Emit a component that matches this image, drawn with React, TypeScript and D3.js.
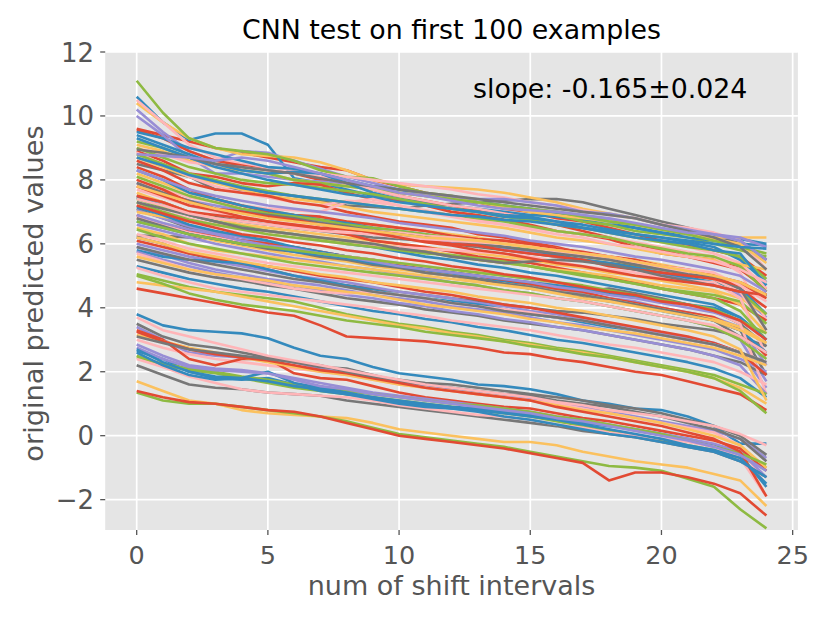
import * as d3 from "d3";

// shift index 0..24
const shifts = d3.range(25);

const xTicks = [0, 5, 10, 15, 20, 25];
const yTicks = [-2, 0, 2, 4, 6, 8, 10, 12];

// ggplot colour cycle, one list of runs per colour (drawn interleaved like matplotlib)
const colors = ["#E24A33", "#348ABD", "#988ED5", "#777777", "#FBC15E", "#8EBA42", "#FFB5B8"];

const redSeries = [
  [9.6, 9.4, 9.2, 9.0, 8.85, 8.7, 8.55, 8.4, 8.3, 8.0, 7.8, 7.6, 7.45, 7.3, 7.1, 7.0, 6.8, 6.7, 6.5, 6.3, 6.1, 5.95, 5.8, 5.6, 5.0],
  [9.55, 9.3, 8.9, 8.6, 8.45, 8.3, 8.2, 8.0, 7.9, 7.7, 7.5, 7.35, 7.2, 7.05, 6.95, 6.8, 6.6, 6.4, 6.2, 6.0, 5.8, 5.6, 5.4, 5.2, 4.6],
  [8.9, 8.6, 8.2, 8.1, 7.9, 7.8, 7.9, 7.85, 7.6, 7.4, 7.35, 7.2, 7.0, 6.9, 6.75, 6.6, 6.4, 6.3, 6.15, 5.9, 5.7, 5.6, 5.5, 5.3, 4.5],
  [8.6, 8.3, 7.9, 7.7, 7.6, 7.5, 7.3, 7.2, 7.0, 6.85, 6.7, 6.6, 6.5, 6.3, 6.2, 6.05, 5.9, 5.7, 5.6, 5.4, 5.25, 5.1, 4.9, 4.6, 4.0],
  [8.4, 8.1, 7.7, 7.4, 7.2, 7.0, 6.9, 6.85, 6.7, 6.6, 6.5, 6.4, 6.25, 6.15, 6.1, 6.0, 5.85, 5.75, 5.6, 5.5, 5.3, 5.2, 5.0, 4.8, 4.4],
  [7.8, 7.5, 7.2, 7.05, 6.85, 6.7, 6.55, 6.45, 6.3, 6.1, 6.0, 5.9, 5.75, 5.6, 5.5, 5.4, 5.25, 5.1, 4.95, 4.8, 4.6, 4.45, 4.3, 4.1, 3.6],
  [6.9, 6.6, 6.4, 6.25, 6.1, 6.0, 5.9, 5.75, 5.6, 5.5, 5.35, 5.2, 5.1, 5.0, 4.85, 4.75, 4.6, 4.5, 4.3, 4.15, 4.0, 3.85, 3.7, 3.3, 2.5],
  [6.1, 5.9, 5.7, 5.55, 5.4, 5.3, 5.15, 5.0, 4.9, 4.8, 4.65, 4.5, 4.4, 4.25, 4.1, 4.0, 3.85, 3.7, 3.55, 3.4, 3.25, 3.1, 2.9, 2.6, 1.9],
  [4.6, 4.45, 4.3, 4.15, 4.0, 3.85, 3.75, 3.45, 3.1, 3.05, 3.0, 2.95, 2.85, 2.75, 2.6, 2.55, 2.4, 2.3, 2.15, 2.0, 1.9, 1.7, 1.5, 1.3, 0.8],
  [7.5, 7.3, 7.0, 6.9, 6.8, 6.7, 6.6, 6.5, 6.45, 6.35, 6.2, 6.1, 6.0, 5.95, 5.8, 5.7, 5.6, 5.5, 5.3, 5.2, 5.1, 5.0, 4.9, 4.7, 4.3],
  [8.0, 7.7, 7.3, 7.1, 7.0, 6.85, 6.75, 6.6, 6.5, 6.35, 6.2, 6.05, 5.95, 5.8, 5.7, 5.55, 5.4, 5.3, 5.15, 5.0, 4.9, 4.8, 4.7, 4.5, 4.4],
  [7.2, 6.95, 6.7, 6.5, 6.3, 6.2, 6.05, 5.95, 5.8, 5.7, 5.55, 5.45, 5.3, 5.2, 5.05, 4.95, 4.8, 4.65, 4.5, 4.4, 4.2, 4.1, 3.9, 3.6, 3.0],
  [3.3, 3.0, 2.4, 2.2, 2.4, 2.4, 1.95, 1.8, 1.75, 1.55, 1.35, 1.2, 1.1, 1.0, 0.9, 0.85, 0.7, 0.55, 0.45, 0.3, 0.15, 0.0, -0.15, -0.4, -1.1],
  [3.25, 2.95, 2.7, 2.55, 2.45, 2.35, 2.2, 2.05, 1.95, 1.8, 1.65, 1.5, 1.4, 1.3, 1.2, 1.1, 0.9, 0.75, 0.6, 0.45, 0.3, 0.1, -0.1, -0.5, -1.9],
  [1.4, 1.2, 1.05, 1.0, 0.9, 0.8, 0.75, 0.6, 0.4, 0.2, 0.0, -0.1, -0.2, -0.3, -0.4, -0.55, -0.7, -0.85, -1.4, -1.15, -1.15, -1.3, -1.5, -1.8, -2.5],
];

const blueSeries = [
  [10.6, 9.8, 9.25, 9.45, 9.45, 9.1, 8.05, 7.9, 7.7, 7.5, 7.4, 7.3, 7.2, 7.1, 7.0, 6.9, 6.85, 6.75, 6.6, 6.5, 6.35, 6.3, 6.2, 6.15, 6.0],
  [9.5, 9.3, 9.0, 8.8, 8.6, 8.4, 8.35, 8.2, 8.0, 7.8, 7.7, 7.55, 7.4, 7.3, 7.2, 7.1, 6.95, 6.8, 6.7, 6.5, 6.35, 6.2, 6.1, 6.0, 5.95],
  [9.4, 9.1, 8.8, 8.5, 8.3, 8.2, 8.25, 8.2, 7.9, 7.6, 7.4, 7.2, 7.1, 7.0, 6.9, 6.85, 6.7, 6.6, 6.45, 6.3, 6.2, 6.05, 5.9, 5.5, 4.8],
  [9.3, 9.0, 8.7, 8.4, 8.2, 8.0, 7.85, 7.7, 7.55, 7.45, 7.3, 7.2, 7.1, 7.0, 6.85, 6.8, 6.7, 6.5, 6.35, 6.2, 6.1, 6.0, 5.8, 5.7, 4.7],
  [8.3, 8.0, 7.6, 7.4, 7.2, 7.05, 6.9, 6.75, 6.65, 6.5, 6.4, 6.3, 6.15, 6.0, 5.9, 5.8, 5.65, 5.5, 5.4, 5.25, 5.1, 4.95, 4.8, 4.6, 3.8],
  [7.45, 7.2, 6.9, 6.7, 6.5, 6.4, 6.3, 6.15, 6.0, 5.9, 5.75, 5.6, 5.5, 5.35, 5.25, 5.1, 5.0, 4.85, 4.7, 4.55, 4.4, 4.25, 4.1, 3.7, 3.0],
  [7.15, 6.9, 6.6, 6.4, 6.25, 6.1, 5.9, 5.75, 5.6, 5.45, 5.3, 5.2, 5.05, 4.9, 4.8, 4.65, 4.5, 4.4, 4.25, 4.1, 3.9, 3.75, 3.6, 3.3, 2.6],
  [5.8, 5.6, 5.5, 5.45, 5.4, 5.2, 5.0, 4.85, 4.7, 4.55, 4.4, 4.3, 4.2, 4.1, 3.95, 3.8, 3.7, 3.55, 3.4, 3.3, 3.15, 3.0, 2.85, 2.6, 2.3],
  [5.3, 5.1, 4.9, 4.75, 4.6, 4.5, 4.35, 4.2, 4.05, 3.9, 3.8, 3.65, 3.55, 3.4, 3.3, 3.15, 3.0, 2.9, 2.75, 2.6, 2.45, 2.3, 2.1, 1.8, 1.2],
  [6.7, 6.5, 6.3, 6.15, 6.0, 5.9, 5.75, 5.65, 5.55, 5.4, 5.3, 5.2, 5.1, 5.0, 4.9, 4.8, 4.7, 4.6, 4.45, 4.35, 4.25, 4.1, 4.0, 3.7, 3.0],
  [8.7, 8.45, 8.15, 7.95, 7.75, 7.6, 7.5, 7.4, 7.3, 7.2, 7.1, 7.0, 6.9, 6.85, 6.75, 6.7, 6.6, 6.5, 6.4, 6.3, 6.2, 6.1, 6.0, 5.9, 5.85],
  [3.8, 3.45, 3.3, 3.25, 3.2, 3.05, 2.75, 2.5, 2.4, 2.15, 1.95, 1.85, 1.75, 1.6, 1.55, 1.45, 1.3, 1.1, 1.0, 0.85, 0.8, 0.6, 0.3, -0.25, -0.25],
  [2.65, 2.4, 2.0, 1.8, 1.75, 1.8, 1.6, 1.4, 1.3, 1.2, 1.1, 1.0, 0.9, 0.85, 0.75, 0.65, 0.55, 0.4, 0.3, 0.2, 0.05, -0.1, -0.3, -0.6, -1.6],
  [2.6, 2.2, 1.9, 1.75, 1.8, 2.0, 1.65, 1.5, 1.35, 1.2, 1.05, 0.95, 0.85, 0.8, 0.7, 0.6, 0.5, 0.35, 0.2, 0.05, -0.1, -0.3, -0.45, -0.7, -1.5],
  [2.7, 2.3, 2.0, 1.85, 1.8, 1.7, 1.55, 1.45, 1.3, 1.15, 1.0, 0.9, 0.85, 0.75, 0.6, 0.5, 0.35, 0.2, 0.05, -0.05, -0.2, -0.35, -0.5, -0.8, -1.3],
];

const purpleSeries = [
  [10.2, 9.5, 8.9, 8.6, 8.9, 8.85, 8.6, 8.35, 8.1, 7.9, 7.7, 7.5, 7.4, 7.3, 7.2, 7.1, 7.0, 6.9, 6.75, 6.6, 6.45, 6.3, 6.2, 6.1, 5.5],
  [10.0, 9.4, 8.7, 8.2, 8.2, 8.1, 8.0, 7.95, 7.9, 7.75, 7.6, 7.55, 7.45, 7.4, 7.4, 7.3, 7.2, 7.0, 6.95, 6.8, 6.6, 6.45, 6.3, 6.2, 5.9],
  [7.9, 7.6, 7.35, 7.2, 7.05, 6.9, 6.8, 6.7, 6.55, 6.45, 6.3, 6.2, 6.05, 5.95, 5.85, 5.75, 5.6, 5.5, 5.35, 5.2, 5.05, 4.9, 4.75, 4.4, 3.7],
  [7.05, 6.8, 6.55, 6.35, 6.2, 6.05, 5.9, 5.75, 5.6, 5.5, 5.35, 5.25, 5.1, 5.0, 4.85, 4.75, 4.6, 4.45, 4.3, 4.2, 4.0, 3.85, 3.7, 3.4, 2.2],
  [6.6, 6.4, 6.2, 6.0, 5.85, 5.7, 5.55, 5.45, 5.3, 5.2, 5.05, 4.95, 4.8, 4.7, 4.55, 4.45, 4.3, 4.2, 4.05, 3.9, 3.75, 3.6, 3.4, 3.0, 1.7],
  [6.0, 5.8, 5.6, 5.45, 5.3, 5.15, 5.0, 4.9, 4.8, 4.65, 4.5, 4.4, 4.3, 4.15, 4.05, 3.9, 3.8, 3.65, 3.5, 3.35, 3.2, 3.05, 2.9, 2.6, 1.5],
  [5.9, 5.65, 5.4, 5.2, 5.05, 4.9, 4.8, 4.7, 4.55, 4.4, 4.3, 4.2, 4.05, 3.95, 3.85, 3.7, 3.55, 3.45, 3.3, 3.15, 3.0, 2.85, 2.7, 2.4, 2.0],
  [5.75, 5.5, 5.3, 5.1, 4.95, 4.8, 4.7, 4.55, 4.4, 4.3, 4.15, 4.05, 3.9, 3.8, 3.65, 3.55, 3.4, 3.3, 3.15, 3.0, 2.85, 2.7, 2.5, 2.2, 1.3],
  [8.8, 8.75, 8.7, 8.6, 8.7, 8.6, 8.4, 8.2, 8.0, 7.8, 7.6, 7.5, 7.35, 7.2, 7.1, 7.05, 7.0, 6.9, 6.8, 6.65, 6.5, 6.35, 6.3, 6.1, 5.5],
  [8.3, 8.0, 7.7, 7.5, 7.35, 7.2, 7.1, 7.0, 6.9, 6.8, 6.65, 6.55, 6.45, 6.35, 6.25, 6.1, 6.0, 5.9, 5.75, 5.6, 5.5, 5.35, 5.2, 5.0, 4.5],
  [6.9, 6.65, 6.45, 6.3, 6.1, 5.95, 5.85, 5.7, 5.6, 5.45, 5.3, 5.2, 5.1, 5.0, 4.9, 4.8, 4.65, 4.55, 4.4, 4.3, 4.15, 4.0, 3.85, 3.6, 3.0],
  [3.4, 3.0, 2.6, 2.5, 2.45, 2.45, 2.3, 2.1, 1.95, 1.8, 1.65, 1.55, 1.45, 1.35, 1.25, 1.15, 1.0, 0.9, 0.75, 0.6, 0.45, 0.3, 0.15, -0.1, -0.7],
  [2.85, 2.5, 2.2, 2.1, 2.05, 1.95, 1.8, 1.65, 1.5, 1.35, 1.25, 1.15, 1.05, 0.95, 0.85, 0.75, 0.6, 0.5, 0.35, 0.2, 0.05, -0.1, -0.25, -0.5, -1.3],
  [2.75, 2.4, 2.15, 2.05, 2.0, 1.95, 1.75, 1.55, 1.45, 1.3, 1.2, 1.1, 1.0, 0.9, 0.8, 0.7, 0.55, 0.45, 0.3, 0.15, 0.0, -0.15, -0.35, -0.6, -1.1],
];

const graySeries = [
  [8.5, 8.3, 8.1, 7.7, 7.7, 7.6, 7.5, 7.35, 7.2, 7.15, 7.1, 7.2, 7.25, 7.3, 7.35, 7.4, 7.4, 7.3, 7.1, 6.9, 6.7, 6.5, 6.3, 6.0, 5.5],
  [7.5, 7.3, 7.0, 6.85, 6.7, 6.6, 6.5, 6.4, 6.3, 6.2, 6.15, 6.1, 6.0, 5.9, 5.8, 5.7, 5.6, 5.5, 5.4, 5.3, 5.2, 5.1, 4.95, 4.7, 4.4],
  [7.1, 6.8, 6.5, 6.3, 6.1, 5.95, 5.8, 5.65, 5.5, 5.4, 5.25, 5.15, 5.0, 4.9, 4.8, 4.7, 4.6, 4.5, 4.6, 4.45, 4.3, 4.1, 3.9, 3.5, 2.8],
  [6.25, 6.25, 6.2, 6.15, 6.1, 6.0, 5.8, 5.65, 5.5, 5.4, 5.25, 5.1, 5.0, 4.85, 4.75, 4.6, 4.5, 4.35, 4.2, 4.1, 3.95, 3.8, 3.6, 3.3, 1.9],
  [6.2, 6.0, 5.7, 5.5, 5.35, 5.2, 5.0, 4.85, 4.7, 4.6, 4.5, 4.4, 4.3, 4.2, 4.1, 4.0, 3.9, 3.85, 3.75, 3.65, 3.5, 3.4, 3.3, 3.1, 2.8],
  [5.5, 5.3, 5.1, 4.95, 4.85, 4.7, 4.6, 4.45, 4.3, 4.2, 4.1, 3.95, 3.85, 3.75, 3.6, 3.5, 3.4, 3.3, 3.15, 3.0, 2.85, 2.7, 2.5, 2.3, 1.9],
  [8.95, 8.85, 8.7, 8.5, 8.4, 8.3, 8.2, 8.05, 7.9, 7.8, 7.7, 7.6, 7.5, 7.4, 7.3, 7.2, 7.1, 7.0, 6.9, 6.8, 6.6, 6.4, 6.2, 5.9, 5.2],
  [6.8, 6.55, 6.3, 6.15, 6.0, 5.85, 5.75, 5.6, 5.5, 5.35, 5.25, 5.1, 5.0, 4.9, 4.75, 4.65, 4.5, 4.4, 4.25, 4.1, 3.95, 3.8, 3.6, 3.1, 2.6],
  [7.9, 7.6, 7.35, 7.1, 7.0, 6.9, 6.8, 6.65, 6.55, 6.4, 6.3, 6.2, 6.1, 6.0, 5.9, 5.8, 5.7, 5.6, 5.5, 5.35, 5.2, 5.05, 4.95, 4.6, 3.3],
  [7.3, 7.1, 6.9, 6.7, 6.5, 6.4, 6.3, 6.2, 6.1, 6.0, 5.85, 5.75, 5.6, 5.5, 5.4, 5.45, 5.5, 5.45, 5.35, 5.2, 5.0, 4.85, 4.7, 4.5, 4.4],
  [5.9, 5.7, 5.5, 5.35, 5.2, 5.05, 4.9, 4.8, 4.65, 4.5, 4.4, 4.3, 4.15, 4.05, 3.9, 3.8, 3.7, 3.6, 3.45, 3.3, 3.15, 3.0, 2.85, 2.6, 2.3],
  [3.5, 3.1, 2.85, 2.75, 2.6, 2.45, 2.3, 2.15, 2.1, 1.9, 1.7, 1.6, 1.5, 1.4, 1.3, 1.25, 1.1, 1.0, 0.9, 0.75, 0.6, 0.4, 0.2, -0.1, -0.8],
  [2.2, 1.9, 1.6, 1.5, 1.45, 1.35, 1.3, 1.25, 1.1, 1.0, 0.9, 0.8, 0.7, 0.6, 0.5, 0.4, 0.3, 0.15, 0.05, -0.05, -0.2, -0.35, -0.5, -0.8, -1.3],
  [3.1, 2.9, 2.7, 2.6, 2.5, 2.4, 2.3, 2.2, 2.0, 1.85, 1.75, 1.65, 1.6, 1.5, 1.4, 1.3, 1.2, 1.1, 0.95, 0.85, 0.7, 0.5, 0.3, 0.0, -0.6],
];

const yellowSeries = [
  [10.4, 9.8, 9.3, 9.0, 8.8, 8.75, 8.7, 8.55, 8.3, 8.0, 7.85, 7.8, 7.75, 7.7, 7.6, 7.45, 7.3, 7.1, 6.95, 6.8, 6.6, 6.4, 6.2, 6.2, 6.2],
  [9.1, 8.9, 8.6, 8.4, 8.3, 8.2, 8.0, 7.9, 7.8, 7.7, 7.6, 7.5, 7.4, 7.3, 7.15, 7.0, 6.9, 6.8, 6.7, 6.6, 6.45, 6.3, 6.15, 6.0, 5.4],
  [8.7, 8.4, 8.1, 7.9, 7.7, 7.5, 7.4, 7.3, 7.15, 7.0, 6.9, 6.8, 6.7, 6.6, 6.5, 6.35, 6.2, 6.1, 6.0, 5.85, 5.7, 5.6, 5.5, 5.35, 5.2],
  [8.2, 7.9, 7.6, 7.4, 7.2, 7.05, 6.9, 6.8, 6.7, 6.6, 6.5, 6.4, 6.3, 6.2, 6.05, 5.95, 5.85, 5.7, 5.6, 5.5, 5.35, 5.2, 5.05, 4.7, 4.3],
  [7.6, 7.3, 7.0, 6.8, 6.6, 6.5, 6.4, 6.3, 6.2, 6.1, 6.0, 5.9, 5.8, 5.7, 5.6, 5.5, 5.35, 5.25, 5.1, 5.0, 4.85, 4.7, 4.55, 4.3, 3.8],
  [7.0, 6.85, 6.7, 6.6, 6.5, 6.4, 6.3, 6.2, 6.1, 6.0, 5.9, 5.8, 5.65, 5.5, 5.4, 5.3, 5.2, 5.1, 5.0, 4.85, 4.7, 4.6, 4.5, 4.1, 3.2],
  [6.8, 6.55, 6.3, 6.1, 5.95, 5.8, 5.65, 5.55, 5.45, 5.3, 5.2, 5.1, 5.0, 4.85, 4.75, 4.65, 4.5, 4.4, 4.25, 4.1, 3.95, 3.8, 3.65, 3.4, 2.9],
  [6.5, 6.3, 6.0, 5.8, 5.7, 5.6, 5.5, 5.4, 5.3, 5.2, 5.1, 5.0, 4.9, 4.8, 4.7, 4.6, 4.45, 4.3, 4.2, 4.05, 3.9, 3.75, 3.6, 3.3, 2.9],
  [5.6, 5.4, 5.2, 5.05, 4.95, 4.85, 4.7, 4.6, 4.5, 4.4, 4.25, 4.1, 4.0, 3.9, 3.8, 3.65, 3.55, 3.4, 3.3, 3.2, 3.05, 2.9, 2.75, 2.5, 2.2],
  [4.8, 4.7, 4.6, 4.5, 4.35, 4.2, 4.05, 3.9, 3.75, 3.6, 3.45, 3.35, 3.2, 3.1, 2.95, 2.85, 2.7, 2.6, 2.45, 2.3, 2.15, 2.0, 1.8, 1.5, 1.0],
  [7.8, 7.55, 7.3, 7.1, 6.95, 6.8, 6.7, 6.6, 6.5, 6.4, 6.3, 6.2, 6.15, 6.1, 6.0, 5.9, 5.8, 5.7, 5.6, 5.45, 5.3, 5.15, 5.0, 4.8, 4.4],
  [6.2, 6.0, 5.75, 5.6, 5.45, 5.3, 5.2, 5.05, 4.95, 4.8, 4.7, 4.6, 4.5, 4.35, 4.25, 4.15, 4.0, 3.9, 3.75, 3.6, 3.45, 3.3, 3.1, 2.7, 1.1],
  [3.15, 2.95, 2.75, 2.6, 2.45, 2.3, 2.15, 2.0, 1.9, 1.75, 1.6, 1.5, 1.4, 1.3, 1.2, 1.1, 0.95, 0.8, 0.7, 0.55, 0.4, 0.2, 0.0, -0.3, -1.0],
  [1.7, 1.4, 1.1, 1.0, 0.8, 0.7, 0.65, 0.6, 0.55, 0.4, 0.2, 0.1, 0.0, -0.1, -0.2, -0.2, -0.3, -0.5, -0.65, -0.8, -0.9, -1.0, -1.2, -1.4, -2.2],
];

const greenSeries = [
  [11.1, 10.1, 9.3, 9.0, 8.9, 8.8, 8.6, 8.3, 8.1, 8.05, 7.8, 7.6, 7.5, 7.3, 7.2, 7.0, 6.9, 6.7, 6.6, 6.4, 6.3, 6.2, 6.0, 5.8, 5.6],
  [9.2, 9.0, 8.7, 8.5, 8.3, 8.2, 8.0, 7.9, 7.8, 7.7, 7.6, 7.5, 7.4, 7.3, 7.2, 7.1, 7.0, 6.85, 6.7, 6.6, 6.45, 6.3, 6.1, 5.9, 5.7],
  [9.0, 8.7, 8.4, 8.2, 8.0, 7.9, 7.85, 7.75, 7.65, 7.55, 7.4, 7.25, 7.1, 7.0, 6.85, 6.75, 6.6, 6.5, 6.35, 6.2, 6.05, 5.9, 5.8, 5.6, 4.9],
  [8.8, 8.5, 8.2, 8.0, 7.8, 7.65, 7.5, 7.4, 7.3, 7.2, 7.1, 7.0, 6.9, 6.8, 6.7, 6.55, 6.4, 6.3, 6.2, 6.0, 5.85, 5.7, 5.6, 5.3, 4.5],
  [8.1, 7.8, 7.5, 7.3, 7.1, 6.95, 6.85, 6.75, 6.6, 6.5, 6.4, 6.3, 6.2, 6.1, 6.0, 5.85, 5.75, 5.6, 5.5, 5.35, 5.2, 5.05, 4.9, 4.5, 3.8],
  [7.4, 7.15, 6.9, 6.7, 6.55, 6.4, 6.3, 6.15, 6.05, 5.95, 5.85, 5.75, 5.6, 5.5, 5.4, 5.3, 5.15, 5.05, 4.9, 4.75, 4.6, 4.5, 4.4, 4.2, 3.5],
  [7.3, 7.0, 6.75, 6.6, 6.45, 6.3, 6.2, 6.1, 6.0, 5.9, 5.8, 5.7, 5.65, 5.55, 5.45, 5.3, 5.15, 5.0, 4.9, 4.75, 4.6, 4.45, 4.3, 3.9, 3.0],
  [6.45, 6.2, 6.0, 5.85, 5.7, 5.55, 5.4, 5.3, 5.2, 5.1, 5.0, 4.9, 4.8, 4.7, 4.55, 4.45, 4.3, 4.2, 4.05, 3.9, 3.75, 3.6, 3.4, 3.0, 2.4],
  [5.05, 4.85, 4.65, 4.5, 4.4, 4.3, 4.2, 4.0, 3.8, 3.65, 3.5, 3.4, 3.25, 3.15, 3.0, 2.9, 2.75, 2.65, 2.5, 2.35, 2.2, 2.05, 1.9, 1.6, 1.3],
  [5.0, 4.75, 4.45, 4.25, 4.1, 4.0, 3.9, 3.75, 3.6, 3.5, 3.4, 3.25, 3.15, 3.05, 2.95, 2.8, 2.7, 2.55, 2.45, 2.3, 2.15, 2.0, 1.8, 1.4, 0.7],
  [6.7, 6.5, 6.3, 6.15, 6.0, 5.9, 5.8, 5.7, 5.6, 5.5, 5.4, 5.3, 5.2, 5.1, 5.0, 4.9, 4.8, 4.7, 4.55, 4.4, 4.25, 4.1, 3.95, 3.6, 3.2],
  [2.5, 2.2, 2.05, 1.95, 1.8, 1.65, 1.5, 1.4, 1.3, 1.2, 1.1, 1.0, 0.9, 0.8, 0.7, 0.6, 0.45, 0.3, 0.15, 0.0, -0.15, -0.3, -0.45, -0.7, -1.0],
  [2.45, 2.25, 2.1, 2.0, 1.85, 1.75, 1.6, 1.5, 1.4, 1.3, 1.2, 1.1, 1.0, 0.95, 0.85, 0.75, 0.6, 0.5, 0.35, 0.2, 0.05, -0.15, -0.35, -0.55, -0.9],
  [1.35, 1.1, 1.0, 1.0, 0.9, 0.8, 0.7, 0.6, 0.45, 0.25, 0.05, -0.05, -0.15, -0.25, -0.35, -0.5, -0.65, -0.8, -0.95, -1.0, -1.1, -1.35, -1.6, -2.3, -2.9],
];

const pinkSeries = [
  [10.5, 9.8, 9.1, 8.7, 8.5, 8.4, 8.3, 8.2, 8.1, 8.0, 7.9, 7.8, 7.7, 7.55, 7.45, 7.3, 7.2, 7.05, 6.9, 6.8, 6.6, 6.5, 6.35, 6.1, 5.2],
  [9.0, 8.8, 8.55, 8.45, 8.4, 8.3, 8.2, 8.1, 7.9, 7.7, 7.5, 7.35, 7.2, 7.1, 6.95, 6.8, 6.65, 6.5, 6.35, 6.2, 6.05, 5.9, 5.7, 5.4, 4.6],
  [8.85, 8.5, 8.1, 7.8, 7.6, 7.45, 7.3, 7.2, 7.35, 7.3, 7.2, 7.05, 6.9, 6.75, 6.6, 6.5, 6.4, 6.3, 6.2, 6.05, 5.9, 5.75, 5.6, 5.1, 3.6],
  [8.0, 7.7, 7.45, 7.3, 7.2, 7.1, 7.05, 7.0, 7.3, 7.4, 7.2, 7.0, 6.85, 6.7, 6.6, 6.45, 6.3, 6.2, 6.0, 5.9, 5.75, 5.6, 5.45, 5.2, 4.8],
  [7.7, 7.45, 7.2, 7.0, 6.85, 6.7, 6.6, 6.5, 6.45, 6.4, 6.35, 6.25, 6.2, 6.1, 6.0, 5.9, 5.75, 5.65, 5.5, 5.4, 5.25, 5.1, 4.9, 4.5, 3.3],
  [7.2, 7.0, 6.8, 6.6, 6.45, 6.3, 6.2, 6.1, 6.0, 5.95, 5.9, 5.85, 5.8, 5.75, 5.7, 5.6, 5.45, 5.3, 5.2, 5.1, 4.95, 4.85, 4.8, 4.3, 2.5],
  [6.85, 6.6, 6.35, 6.2, 6.05, 5.9, 5.8, 5.7, 5.6, 5.5, 5.4, 5.3, 5.2, 5.1, 5.0, 4.9, 4.75, 4.6, 4.5, 4.35, 4.2, 4.05, 3.9, 3.5, 1.3],
  [5.7, 5.45, 5.2, 5.05, 4.9, 4.75, 4.6, 4.5, 4.45, 4.5, 4.4, 4.3, 4.15, 4.05, 3.95, 3.85, 3.7, 3.6, 3.45, 3.3, 3.15, 3.0, 2.85, 2.6, 2.3],
  [5.25, 5.0, 4.8, 4.6, 4.5, 4.4, 4.3, 4.2, 4.1, 4.0, 3.85, 3.75, 3.6, 3.5, 3.4, 3.3, 3.15, 3.0, 2.85, 2.75, 2.6, 2.45, 2.3, 2.0, 1.6],
  [7.4, 7.2, 6.95, 6.8, 6.7, 6.6, 6.5, 6.4, 6.35, 6.3, 6.2, 6.15, 6.1, 6.05, 6.0, 5.9, 5.8, 5.7, 5.6, 5.45, 5.3, 5.2, 5.1, 4.7, 4.2],
  [6.3, 6.1, 5.85, 5.7, 5.55, 5.4, 5.3, 5.2, 5.1, 5.0, 4.9, 4.8, 4.7, 4.6, 4.5, 4.4, 4.3, 4.2, 4.05, 3.9, 3.75, 3.6, 3.45, 3.1, 2.6],
  [3.0, 2.75, 2.55, 2.4, 2.3, 2.2, 2.1, 2.0, 1.9, 1.75, 1.6, 1.5, 1.4, 1.3, 1.2, 1.1, 1.0, 0.85, 0.7, 0.55, 0.4, 0.25, 0.1, -0.3, -1.6],
  [2.4, 2.15, 1.85, 1.65, 1.45, 1.35, 1.3, 1.25, 1.2, 1.1, 0.95, 0.85, 0.75, 0.65, 0.6, 0.5, 0.35, 0.25, 0.1, 0.0, -0.1, -0.2, -0.35, -0.7, -1.9],
  [3.7, 3.3, 3.1, 2.9, 2.7, 2.5, 2.35, 2.2, 2.05, 1.9, 1.75, 1.6, 1.5, 1.4, 1.3, 1.2, 1.05, 0.95, 0.8, 0.7, 0.6, 0.45, 0.3, 0.05, -0.3],
];

const title = "CNN test on first 100 examples";
const slopeText = "slope: -0.165\u00b10.024";
const xLabel = "num of shift intervals";
const yLabel = "original predicted values";

const W = 830;
const H = 623;
const plot = { left: 105.2, right: 797.9, top: 52, bottom: 530 };
const font = "'DejaVu Sans', sans-serif";

export default function App() {
  const x = d3.scaleLinear().domain([-1.2, 25.2]).range([plot.left, plot.right]);
  const y = d3.scaleLinear().domain([-2.95, 12.0]).range([plot.bottom, plot.top]);

  const groups = [redSeries, blueSeries, purpleSeries, graySeries, yellowSeries, greenSeries, pinkSeries];
  // interleave so the colour cycle runs like matplotlib's default
  const runs: { values: number[]; color: string }[] = [];
  const maxLen = d3.max(groups, (g) => g.length) ?? 0;
  for (let k = 0; k < maxLen; k++) {
    groups.forEach((g, ci) => {
      if (g[k]) runs.push({ values: g[k], color: colors[ci] });
    });
  }

  const line = d3
    .line<number>()
    .x((_, i) => x(shifts[i]))
    .y((d) => y(d));

  const fmt = (v: number) => (v < 0 ? "\u2212" + Math.abs(v) : String(v));

  return (
    <svg width={W} height={H} style={{ position: "absolute", left: 0, top: 0, background: "#fff" }} fontFamily={font}>
      <defs>
        <clipPath id="plotclip">
          <rect x={plot.left} y={plot.top} width={plot.right - plot.left} height={plot.bottom - plot.top} />
        </clipPath>
      </defs>
      <rect x={plot.left} y={plot.top} width={plot.right - plot.left} height={plot.bottom - plot.top} fill="#E5E5E5" />
      {/* grid */}
      {xTicks.map((t) => (
        <line key={"gx" + t} x1={x(t)} x2={x(t)} y1={plot.top} y2={plot.bottom} stroke="#fff" strokeWidth={1.7} />
      ))}
      {yTicks.map((t) => (
        <line key={"gy" + t} x1={plot.left} x2={plot.right} y1={y(t)} y2={y(t)} stroke="#fff" strokeWidth={1.7} />
      ))}
      <g clipPath="url(#plotclip)">
        {runs.map((r, i) => (
          <path key={i} d={line(r.values) ?? ""} fill="none" stroke={r.color} strokeWidth={2.6} strokeLinejoin="round" />
        ))}
      </g>
      {/* ticks */}
      {xTicks.map((t) => (
        <g key={"tx" + t}>
          <line x1={x(t)} x2={x(t)} y1={plot.bottom} y2={plot.bottom + 5} stroke="#555" strokeWidth={1.3} />
          <text x={x(t)} y={564} textAnchor="middle" fontSize={25.5} fill="#555">
            {fmt(t)}
          </text>
        </g>
      ))}
      {yTicks.map((t) => (
        <g key={"ty" + t}>
          <line x1={plot.left - 5} x2={plot.left} y1={y(t)} y2={y(t)} stroke="#555" strokeWidth={1.3} />
          <text x={94} y={y(t) + 9.5} textAnchor="end" fontSize={26} fill="#555">
            {fmt(t)}
          </text>
        </g>
      ))}
      <text x={(plot.left + plot.right) / 2} y={39} textAnchor="middle" fontSize={26.8} fill="#000">
        {title}
      </text>
      <text x={473} y={98} fontSize={26.8} fill="#000">
        {slopeText}
      </text>
      <text x={(plot.left + plot.right) / 2} y={595} textAnchor="middle" fontSize={27} fill="#555">
        {xLabel}
      </text>
      <text transform={`translate(43, 293.5) rotate(-90)`} textAnchor="middle" fontSize={27.2} fill="#555">
        {yLabel}
      </text>
    </svg>
  );
}
